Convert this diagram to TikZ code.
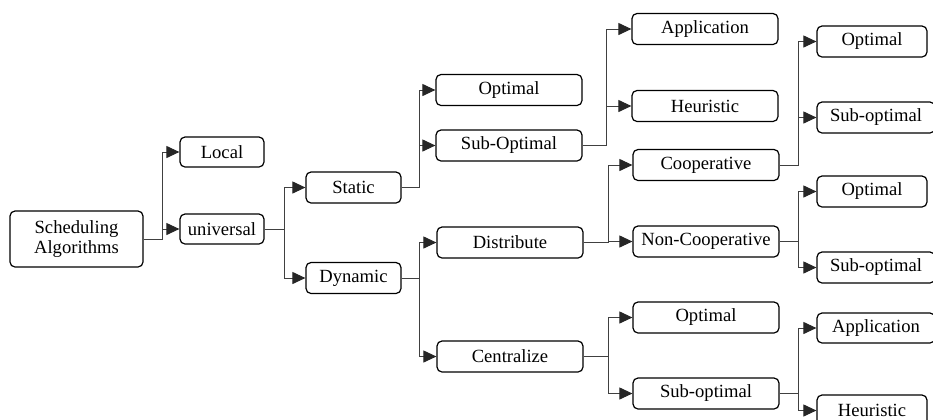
\documentclass[tikz,border=0pt]{standalone}
\usepackage{fontspec}
\setmainfont{Liberation Serif}
\usetikzlibrary{arrows.meta}
\newcommand\branch[4]{%
  \draw[arr] (#1.east) -- (#1.east -| #2) |- (#3.west);
  \draw[arr] (#1.east -| #2) |- (#4.west);}
\begin{document}
\begin{tikzpicture}[x=0.5pt,y=-0.5pt,
  box/.style={draw=black, line width=0.6pt, rounded corners=2.5pt, inner sep=0pt,
    font=\fontsize{9.3}{10.3}\selectfont, align=center},
  bw/.style={minimum width=146*0.5pt, minimum height=31*0.5pt},
  arr/.style={draw=black!75, line width=0.5pt, -{Triangle[length=6.5pt,width=6pt,fill=black!85,color=black!85]}}]
\clip (0,0) rectangle (933,419);
% column 1
\node[box, minimum width=133*0.5pt, minimum height=56*0.5pt] (sched) at (76.5,239) {Scheduling\\Algorithms};
% column 2
\node[box, minimum width=84*0.5pt, minimum height=30*0.5pt] (local) at (222,152) {Local};
\node[box, minimum width=84*0.5pt, minimum height=30*0.5pt] (univ) at (222,229) {universal};
% column 3
\node[box, minimum width=95*0.5pt, minimum height=31*0.5pt] (static) at (353.5,187.5) {Static};
\node[box, minimum width=95*0.5pt, minimum height=31*0.5pt] (dynamic) at (353.5,278) {Dynamic};
% column 4
\node[box, bw] (sopt) at (509,90) {Optimal};
\node[box, bw] (ssub) at (509,145.5) {Sub-Optimal};
\node[box, bw] (dist) at (510,242.5) {Distribute};
\node[box, bw] (cent) at (510,356.5) {Centralize};
% column 5
\node[box, bw] (app1) at (705,29) {Application};
\node[box, bw] (heu1) at (705,106) {Heuristic};
\node[box, bw] (coop) at (706,165) {Cooperative};
\node[box, bw] (ncoop) at (706,241.5) {Non-Cooperative};
\node[box, bw] (copt) at (706,317.5) {Optimal};
\node[box, bw] (csub) at (706,393.5) {Sub-optimal};
% column 6
\node[box, minimum width=110*0.5pt, minimum height=31*0.5pt] (opt1) at (872,41.5) {Optimal};
\node[box, minimum width=118*0.5pt, minimum height=31*0.5pt] (sub1) at (876,117.5) {Sub-optimal};
\node[box, minimum width=110*0.5pt, minimum height=31*0.5pt] (opt2) at (872,191.5) {Optimal};
\node[box, minimum width=118*0.5pt, minimum height=31*0.5pt] (sub2) at (876,267.5) {Sub-optimal};
\node[box, minimum width=118*0.5pt, minimum height=30*0.5pt] (app2) at (876,328) {Application};
\node[box, minimum width=110*0.5pt, minimum height=31*0.5pt] (heu2) at (872,410.5) {Heuristic};
% bars
\coordinate (b1) at (162,0);
\coordinate (b2) at (284,0);
\coordinate (b3) at (419,0);
\coordinate (b4) at (606,0);
\coordinate (b5) at (608,0);
\coordinate (b6) at (798,0);
% connectors
\branch{sched}{b1}{local}{univ}
\branch{univ}{b2}{static}{dynamic}
\branch{static}{b3}{sopt}{ssub}
\branch{dynamic}{b3}{dist}{cent}
\branch{ssub}{b4}{app1}{heu1}
\branch{dist}{b5}{coop}{ncoop}
\branch{cent}{b5}{copt}{csub}
\branch{coop}{b6}{opt1}{sub1}
\branch{ncoop}{b6}{opt2}{sub2}
\branch{csub}{b6}{app2}{heu2}
\end{tikzpicture}
\end{document}
